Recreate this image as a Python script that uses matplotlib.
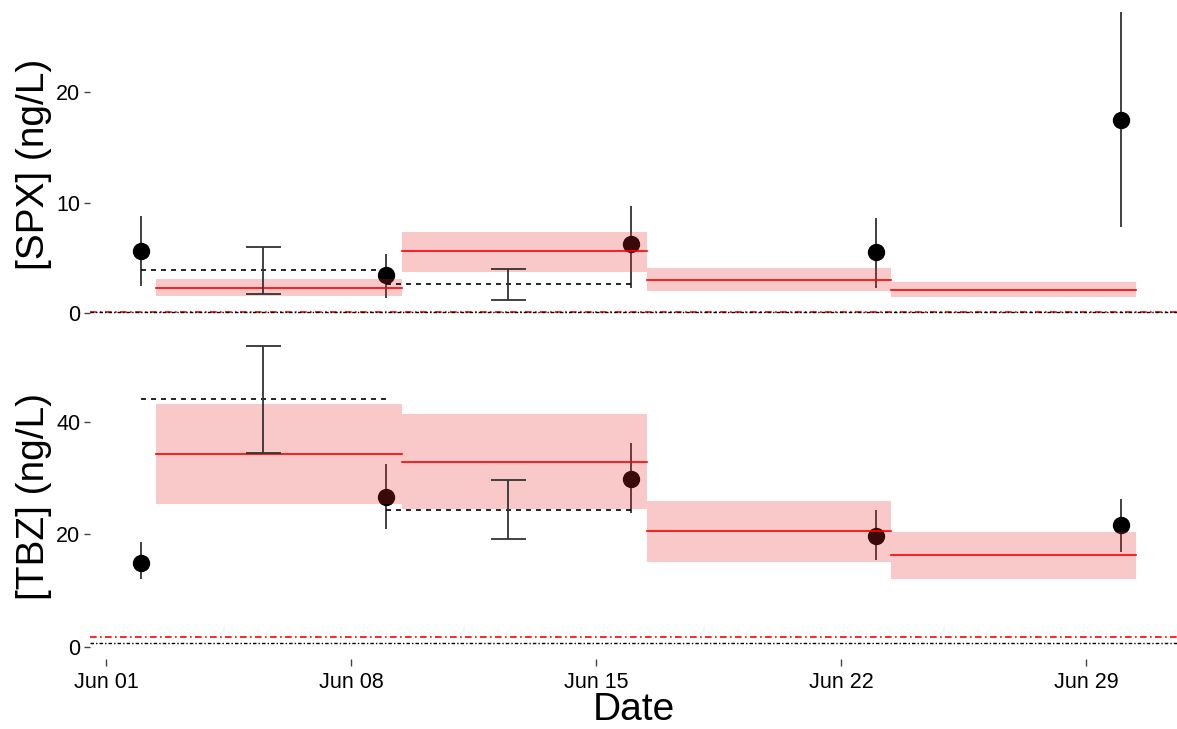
import matplotlib
matplotlib.use('Agg')
import matplotlib.pyplot as plt
import matplotlib.dates as mdates
import numpy as np

plt.rcParams['font.family'] = ['Liberation Sans', 'DejaVu Sans']

# Sample dates and measured values (point +/- error)
sample_dates = ['2016-06-02', '2016-06-09', '2016-06-16', '2016-06-23', '2016-06-30']
spx_val = [5.6, 3.4, 6.2, 5.5, 17.5]
spx_lo = [2.4, 1.4, 2.3, 2.3, 7.8]
spx_hi = [8.8, 5.3, 9.7, 8.6, 27.2]
tbz_val = [15.0, 26.6, 29.8, 19.8, 21.6]
tbz_lo = [12.0, 21.0, 23.8, 15.4, 16.9]
tbz_hi = [18.6, 32.5, 36.2, 24.3, 26.3]

# Weekly passive-sampler bins (mean line + range)
bin_edges = ['2016-06-02 10:00', '2016-06-09 11:00', '2016-06-16 11:00',
             '2016-06-23 10:00', '2016-06-30 10:00']
spx_bin_mean = [2.3, 5.6, 3.0, 2.1]
spx_bin_lo = [1.5, 3.7, 2.0, 1.45]
spx_bin_hi = [3.1, 7.3, 4.1, 2.8]
tbz_bin_mean = [34.3, 32.9, 20.6, 16.3]
tbz_bin_lo = [25.4, 24.5, 15.1, 12.1]
tbz_bin_hi = [43.2, 41.4, 25.9, 20.4]

# Dashed averages between first samples and interval error bars
spx_dash = [3.9, 2.6]
spx_mid_lo = [1.7, 1.2]
spx_mid_hi = [6.0, 4.0]
tbz_dash = [44.0, 24.3]
tbz_mid_lo = [34.5, 19.2]
tbz_mid_hi = [53.5, 29.7]

# detection limits
spx_lod = [0.1, 0.05]
tbz_lod = [1.7, 0.75]

tick_dates = ['2016-06-01', '2016-06-08', '2016-06-15', '2016-06-22', '2016-06-29']

W, H = 1177, 729
fig = plt.figure(figsize=(W / 100, H / 100), dpi=100)

def px_axes(left, top, right, bottom):
    return fig.add_axes([left / W, 1 - bottom / H, (right - left) / W, (bottom - top) / H])

ax1 = px_axes(90, 0, 1177, 329)
ax2 = px_axes(90, 335, 1177, 659)

xs = mdates.date2num(np.array(sample_dates, dtype='datetime64[m]'))
edges = mdates.date2num(np.array(bin_edges, dtype='datetime64[m]'))
mids = (xs[:2] + xs[1:3]) / 2
jun1 = mdates.date2num(np.datetime64('2016-06-01'))


def panel(ax, val, lo, hi, bmean, blo, bhi, dash, mlo, mhi, lod, ylim, yticks, ylabel):
    val = np.array(val)
    ax.errorbar(xs, val, yerr=[val - np.array(lo), np.array(hi) - val], fmt='o',
                color='black', ecolor='#333333', elinewidth=1.3, markersize=11.5, zorder=2)
    for i in range(len(bmean)):
        ax.fill_between([edges[i], edges[i + 1]], blo[i], bhi[i], color='#E8282E',
                        alpha=0.25, linewidth=0, zorder=3)
        ax.plot([edges[i], edges[i + 1]], [bmean[i], bmean[i]], color='red', lw=1.2, zorder=4)
    for i in range(2):
        ax.plot([xs[i], xs[i + 1]], [dash[i], dash[i]], color='black', lw=1.2,
                dashes=(3, 3), zorder=4)
    mid = np.array([(a + b) / 2 for a, b in zip(mlo, mhi)])
    ax.errorbar(mids, mid, yerr=[mid - np.array(mlo), np.array(mhi) - mid], fmt='none',
                ecolor='#333333', elinewidth=1.3, capsize=12.6, capthick=1.3, zorder=5)
    ax.axhline(lod[0], color='red', lw=1.2, dashes=(4, 2, 1, 2), zorder=1)
    ax.axhline(lod[1], color='black', lw=1.0, dashes=(2.5, 1.5, 1, 1.5), zorder=1)

    ax.set_xlim(jun1 - 0.457, jun1 + 30.6)
    ax.set_ylim(*ylim)
    ax.set_yticks(yticks)
    for s in ax.spines.values():
        s.set_visible(False)
    ax.tick_params(axis='y', length=4, width=1, color='#444444', labelsize=15.5, pad=3)
    ax.set_ylabel(ylabel, fontsize=28, labelpad=0)
    ax.yaxis.set_label_coords(-38 / 1087, 0.5)


panel(ax1, spx_val, spx_lo, spx_hi, spx_bin_mean, spx_bin_lo, spx_bin_hi,
      spx_dash, spx_mid_lo, spx_mid_hi, spx_lod, (-1.45, 28.33), [0, 10, 20], '[SPX] (ng/L)')
panel(ax2, tbz_val, tbz_lo, tbz_hi, tbz_bin_mean, tbz_bin_lo, tbz_bin_hi,
      tbz_dash, tbz_mid_lo, tbz_mid_hi, tbz_lod, (-2.13, 55.42), [0, 20, 40], '[TBZ] (ng/L)')

ax1.tick_params(axis='x', bottom=False, labelbottom=False)
ticks = mdates.date2num(np.array(tick_dates, dtype='datetime64[D]'))
ax2.set_xticks(ticks)
ax2.xaxis.set_major_formatter(mdates.DateFormatter('%b %d'))
ax2.tick_params(axis='x', length=5, width=1, color='#444444', labelsize=15.5, pad=4)
ax2.set_xlabel('Date', fontsize=28, labelpad=0)

fig.savefig('out.png', dpi=100)
